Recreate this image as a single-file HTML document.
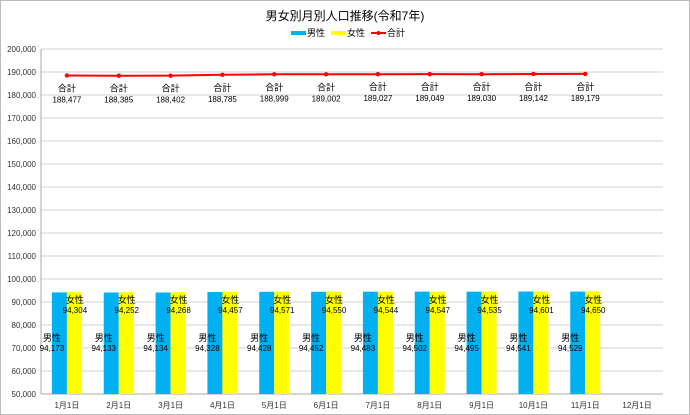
<!DOCTYPE html>
<html><head><meta charset="utf-8"><style>
body{margin:0;background:#fff}
svg{display:block;font-family:"Liberation Sans","Noto Sans CJK JP",sans-serif}
</style></head><body>
<svg id="c" width="690" height="415">
<rect x="0.5" y="0.5" width="689" height="414" fill="#fff" stroke="#bbb"/>
<text x="345" y="20" font-size="12" text-anchor="middle">男女別月別人口推移(令和7年)</text>
<g font-size="9">
<g><rect x="291" y="31" width="15" height="4" fill="#00b0f0"/><text x="307" y="36">男性</text></g>
<g><rect x="331" y="31" width="15" height="4" fill="#ffff00"/><text x="347" y="36">女性</text></g>
<g><line x1="371" y1="33" x2="386" y2="33" stroke="#ff0000" stroke-width="2"/><circle cx="378.5" cy="33" r="2" fill="#ff0000"/><text x="387" y="36">合計</text></g>
</g>
<g id="grid"></g><g id="bars"></g><g id="line"></g><g id="labels"></g>
</svg>
<script>
const categories=["1月1日","2月1日","3月1日","4月1日","5月1日","6月1日","7月1日","8月1日","9月1日","10月1日","11月1日","12月1日"];
const male=[94173,94133,94134,94328,94428,94452,94483,94502,94495,94541,94529];
const female=[94304,94252,94268,94457,94571,94550,94544,94547,94535,94601,94650];
const total=[188477,188385,188402,188785,188999,189002,189027,189049,189030,189142,189179];
const yTicks=[50000,60000,70000,80000,90000,100000,110000,120000,130000,140000,150000,160000,170000,180000,190000,200000];
const NS="http://www.w3.org/2000/svg";
const L=41,R=663,T=49,B=394,ymin=50000,ymax=200000;
const bw=(R-L)/categories.length;
const y=v=>B-(v-ymin)/(ymax-ymin)*(B-T);
const xc=i=>L+bw*(i+0.5);
function mk(p,tag,a){const e=document.createElementNS(NS,tag);for(const k in a)e.setAttribute(k,a[k]);document.getElementById(p).appendChild(e);return e;}
const fmt=v=>v.toLocaleString('en-US');
yTicks.forEach(t=>{
 const g=mk('grid','line',{x1:L,x2:R,y1:y(t),y2:y(t),stroke:'#d0d0d0','stroke-width':1});
 
 
 const tx=mk('grid','text',{x:L-5,y:y(t)+3,'font-size':8,'text-anchor':'end',fill:'#333'});
 tx.textContent=fmt(t);
 
 
});
const ax=mk('grid','line',{x1:L,x2:L,y1:T,y2:B,stroke:'#aaa'});


const bx=mk('grid','line',{x1:L,x2:R,y1:B,y2:B,stroke:'#aaa'});


categories.forEach((c,i)=>{
 const t=mk('grid','text',{x:xc(i),y:B+14,'font-size':8,'text-anchor':'middle',fill:'#333'});
 t.textContent=c;
 
 
});
male.forEach((v,i)=>{
 const r=mk('bars','rect',{x:xc(i)-15,y:y(v),width:15,height:B-y(v),fill:'#00b0f0'});
 
 
 const a=mk('labels','text',{x:xc(i)-15,y:341,'font-size':9,'text-anchor':'middle'});a.textContent='男性';
 
 
 const b=mk('labels','text',{x:xc(i)-15,y:351,'font-size':8,'text-anchor':'middle'});b.textContent=fmt(v);
 
 
});
female.forEach((v,i)=>{
 const r=mk('bars','rect',{x:xc(i),y:y(v),width:15,height:B-y(v),fill:'#ffff00'});
 
 
 const a=mk('labels','text',{x:xc(i)+8,y:303,'font-size':9,'text-anchor':'middle'});a.textContent='女性';
 
 
 const b=mk('labels','text',{x:xc(i)+8,y:313,'font-size':8,'text-anchor':'middle'});b.textContent=fmt(v);
 
 
});
const pl=mk('line','polyline',{points:total.map((v,i)=>xc(i)+','+y(v)).join(' '),fill:'none',stroke:'#ff0000','stroke-width':2});


total.forEach((v,i)=>{
 const c=mk('line','circle',{cx:xc(i),cy:y(v),r:2.2,fill:'#ff0000'});
 
 
 const a=mk('labels','text',{x:xc(i),y:y(v)+16,'font-size':9,'text-anchor':'middle'});a.textContent='合計';
 
 
 const b=mk('labels','text',{x:xc(i),y:y(v)+27,'font-size':8,'text-anchor':'middle'});b.textContent=fmt(v);
 
 
});
</script>
</body></html>
